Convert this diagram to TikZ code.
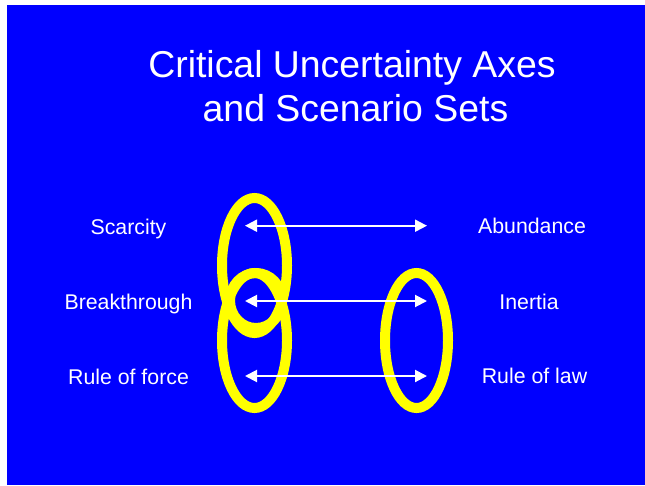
\documentclass[tikz,border=0pt]{standalone}
\usepackage{fontspec}
\setmainfont{Liberation Sans}
\usetikzlibrary{arrows.meta}
\definecolor{slideblue}{HTML}{0000FF}
\definecolor{ringyellow}{HTML}{FFFF00}
\tikzset{
  titletext/.style={text=white, inner sep=0pt, anchor=base, font=\fontsize{37.4}{44.8}\selectfont},
  labeltext/.style={text=white, inner sep=0pt, anchor=base, font=\fontsize{21.3}{25}\selectfont},
  ring/.style={draw=ringyellow, line width=10pt},
  axis/.style={draw=white, line width=2pt, {Triangle[length=12pt,width=12pt]}-{Triangle[length=12pt,width=12pt]}}
}
\begin{document}
\begin{tikzpicture}[x=1pt,y=-1pt]
\useasboundingbox (0,0) rectangle (645,485);
\fill[white] (0,0) rectangle (645,485);
\fill[slideblue] (7,5) rectangle (645,485);
% title
\node[titletext] (t1) at (352,77) {Critical Uncertainty Axes};
\node[titletext] (t2) at (355.5,121) {and Scenario Sets};
% labels
\node[labeltext] (scarcity) at (128.5,234) {Scarcity};
\node[labeltext] (breakthrough) at (128.5,309) {Breakthrough};
\node[labeltext] (force) at (128.5,384) {Rule of force};
\node[labeltext] (abundance) at (532,233.5) {Abundance};
\node[labeltext] (inertia) at (529,309) {Inertia};
\node[labeltext] (law) at (534.5,383.5) {Rule of law};
% rings
\coordinate (ringTL) at (254.5,265.5);
\coordinate (ringBL) at (254.5,340.5);
\coordinate (ringS) at (256,300.5);
\coordinate (ringR) at (416.5,340.5);
\draw[ring] (ringTL) ellipse [x radius=32.5pt, y radius=67.5pt];
\draw[ring] (ringBL) ellipse [x radius=32.5pt, y radius=67.5pt];
\draw[ring] (ringS) ellipse [x radius=26pt, y radius=27.5pt];
\draw[ring] (ringR) ellipse [x radius=31.5pt, y radius=67.5pt];
% axes
\coordinate (a1l) at (245,225.7);
\coordinate (a1r) at (427,225.7);
\coordinate (a2l) at (245,301);
\coordinate (a2r) at (427,301);
\coordinate (a3l) at (245,376);
\coordinate (a3r) at (427,376);
\draw[axis] (a1l) -- (a1r);
\draw[axis] (a2l) -- (a2r);
\draw[axis] (a3l) -- (a3r);
\end{tikzpicture}
\end{document}
